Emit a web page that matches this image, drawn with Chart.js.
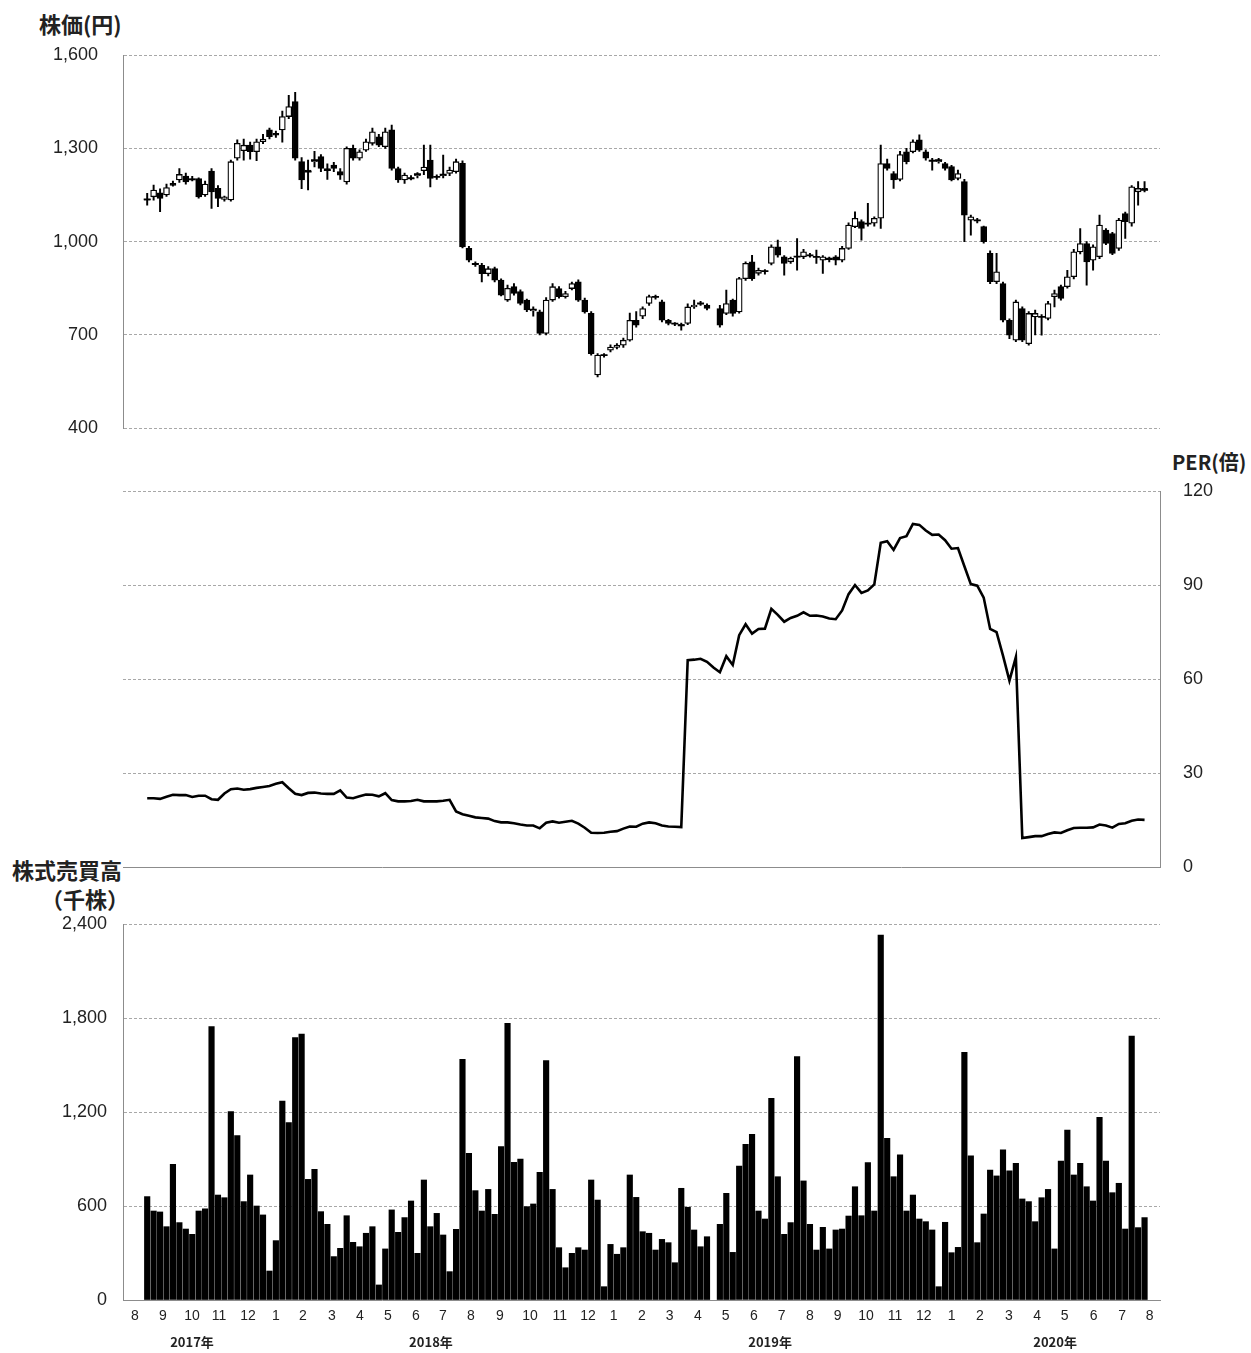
<!DOCTYPE html>
<html lang="ja">
<head>
<meta charset="utf-8">
<title>株価・PER・株式売買高</title>
<script src="https://cdn.jsdelivr.net/npm/chart.js@4.4.1/dist/chart.umd.min.js"></script>
<style>
  body { margin: 0; background: #fff; }
  #wrap { position: relative; width: 1251px; height: 1353px; background: #fff; overflow: hidden; }
  #wrap canvas { position: absolute; left: 0; }
  .lbl { position: absolute; font-family: "Noto Sans CJK JP", sans-serif; font-weight: bold;
         font-size: 22px; color: #222; white-space: nowrap; line-height: 1; }
</style>
</head>
<body>
<div id="wrap">
  <div class="lbl" style="left:39px;top:12px">株価(円)</div>
  <div class="lbl" style="left:1172px;top:452px;font-size:20px">PER(倍)</div>
  <div class="lbl" style="left:12px;top:858px">株式売買高</div>
  <div class="lbl" style="left:41px;top:887px">（千株）</div>
  <canvas id="priceChart" width="1251" height="464" style="top:0"></canvas>
  <canvas id="perChart" width="1251" height="456" style="top:445px"></canvas>
  <canvas id="volChart" width="1251" height="473" style="top:880px"></canvas>
</div>

<script>
// weekly data, Aug 2017 - Aug 2020 (156 weeks, index = week number)
// week 88 is the 2019 golden week holiday, no trading
const priceOpen = [1133,1144,1157,1150,1187,1198,1211,1202,1203,1150,1227,1171,1136,1134,1268,1292,1310,1289,1321,1359,
  1348,1359,1402,1450,1257,1230,1257,1273,1235,1246,1225,1192,1300,1268,1294,1316,1337,1305,1359,1235,
  1198,1206,1212,1228,1262,1210,1212,1219,1225,1252,978,930,924,897,913,876,812,855,839,812,
  777,774,705,812,849,823,849,871,812,769,571,633,651,660,667,683,747,760,801,823,
  806,747,737,733,737,790,800,796,null,785,769,812,774,881,935,898,903,930,983,951,
  935,951,951,957,950,940,948,951,940,978,1048,1064,1059,1059,1075,1251,1219,1200,1289,1289,
  1327,1289,1262,1257,1251,1241,1203,1193,1069,1069,1048,962,871,865,747,683,785,672,758,758,
  753,823,855,855,887,967,994,940,951,1037,1026,978,1090,1059,1160,1171];
const priceHigh = [1155,1182,1170,1185,1195,1235,1220,1210,1205,1195,1235,1180,1146,1262,1327,1330,1320,1330,1345,1365,
  1355,1420,1470,1480,1270,1262,1290,1280,1250,1255,1235,1305,1310,1295,1330,1365,1345,1365,1375,1240,
  1220,1212,1222,1310,1310,1215,1278,1240,1265,1260,985,935,930,920,918,880,860,865,845,815,
  790,780,820,865,855,840,870,877,818,775,640,640,668,672,690,770,775,790,828,828,
  812,750,740,738,800,812,808,800,null,795,844,815,885,935,956,915,910,990,1005,955,
  950,1010,975,962,973,955,950,955,985,1060,1096,1070,1123,1080,1310,1265,1225,1290,1300,1327,
  1343,1295,1268,1268,1255,1245,1230,1200,1085,1075,1050,970,962,870,752,812,790,775,780,765,
  808,844,860,908,975,1042,1000,990,1085,1042,1030,1075,1095,1180,1193,1193];
const priceLow = [1117,1133,1096,1145,1178,1190,1185,1195,1140,1145,1107,1112,1130,1130,1262,1262,1265,1260,1315,1330,
  1335,1320,1395,1262,1170,1166,1240,1225,1200,1225,1200,1185,1262,1262,1290,1310,1305,1300,1230,1190,
  1187,1198,1205,1215,1176,1200,1205,1212,1220,980,935,920,870,890,870,825,808,828,796,775,
  760,700,700,808,818,818,845,808,770,635,565,628,645,655,660,680,725,752,795,815,
  742,732,730,715,733,785,795,780,null,725,765,760,770,875,875,892,895,925,950,892,
  930,908,945,950,930,898,935,925,935,975,1045,1005,1050,1050,1042,1230,1171,1195,1250,1285,
  1290,1262,1230,1252,1230,1195,1198,1000,1021,1060,995,865,865,742,688,678,678,667,700,699,
  748,790,812,850,880,960,860,908,945,990,958,972,1010,1050,1117,1160];
const priceClose = [1136,1166,1139,1174,1181,1216,1192,1200,1144,1185,1160,1139,1144,1257,1316,1310,1289,1321,1330,1337,
  1342,1402,1434,1268,1198,1225,1262,1235,1230,1235,1214,1300,1268,1289,1321,1353,1310,1353,1235,1198,
  1214,1203,1217,1240,1203,1208,1215,1230,1257,983,940,928,897,913,876,828,850,833,801,780,
  781,705,812,855,823,833,865,812,774,640,635,635,661,667,683,747,731,785,823,822,
  747,737,736,731,790,796,801,785,null,731,801,769,881,930,881,908,905,983,956,930,
  946,952,967,956,951,951,944,940,978,1053,1075,1042,1058,1075,1251,1235,1198,1280,1257,1321,
  1294,1268,1260,1262,1235,1198,1219,1085,1080,1068,1000,871,903,747,699,806,683,769,769,758,
  801,833,817,887,967,994,935,983,1053,994,962,1069,1064,1176,1171,1166];

// PER (倍), one value per week
const perValues = [22.0,22.0,21.8,22.5,23.1,23.0,23.0,22.4,22.8,22.8,21.7,21.5,23.5,24.9,25.1,24.7,24.9,25.3,25.6,25.9,
  26.6,27.1,25.2,23.4,23.0,23.7,23.8,23.5,23.4,23.4,24.5,22.2,22.0,22.6,23.2,23.1,22.6,23.6,21.4,21.0,
  21.0,21.1,21.5,21.0,21.0,21.0,21.2,21.5,17.8,16.9,16.4,15.9,15.7,15.5,14.7,14.3,14.3,14.0,13.6,13.3,
  13.3,12.4,14.2,14.6,14.2,14.5,14.8,13.9,12.6,11.0,10.9,11.0,11.3,11.5,12.3,13.0,12.9,13.9,14.3,14.0,
  13.3,13.0,12.9,12.8,66.0,66.2,66.5,65.5,63.7,62.2,67.3,64.5,74.0,77.5,74.5,76.0,76.1,82.4,80.5,78.3,
  79.5,80.2,81.3,80.2,80.3,80.0,79.3,79.1,81.9,87.1,90.0,87.5,88.3,90.2,103.5,104.0,101.2,105.0,105.6,109.5,
  109.2,107.4,106.0,106.1,104.3,101.6,101.8,96.0,90.3,89.8,86.0,76.0,75.0,67.5,59.5,67.0,9.3,9.6,9.9,9.9,
  10.6,11.1,10.9,11.8,12.5,12.6,12.6,12.7,13.6,13.3,12.6,13.8,14.0,14.8,15.2,15.1];

// 株式売買高 (千株)
const volume = [660,568,562,468,866,494,453,419,568,582,1745,670,653,1202,1049,628,798,600,543,185,
  379,1270,1132,1675,1698,770,834,564,483,277,330,538,368,340,426,468,96,326,575,432,
  526,632,298,766,468,553,415,181,451,1536,936,698,568,706,547,979,1766,879,900,596,
  613,815,1528,706,334,206,298,334,319,766,638,85,355,292,334,798,655,436,426,319,
  387,366,238,713,592,447,340,404,null,483,681,304,855,994,1058,568,517,1287,787,419,
  494,1553,760,483,319,464,326,447,453,536,723,538,877,568,2330,1032,787,926,568,670,
  517,500,447,85,496,302,336,1581,921,366,549,830,792,958,824,872,645,628,500,653,
  706,326,887,1085,798,872,723,632,1166,887,685,745,453,1685,462,526];

// x axis labels (positions in weeks)
const monthLabels = ['8','9','10','11','12','1','2','3','4','5','6','7','8','9','10','11','12','1','2','3',
  '4','5','6','7','8','9','10','11','12','1','2','3','4','5','6','7','8'];
const monthPos = [-1.9,2.45,6.96,11.16,15.66,20.01,24.2,28.7,33.07,37.42,41.77,45.96,50.3,54.8,59.5,64.1,68.5,72.5,76.9,81.2,
  85.6,89.9,94.3,98.6,103,107.3,111.7,116.2,120.7,125,129.4,133.9,138.3,142.6,147.1,151.5,155.8];
const yearLabels = ['2017年','2018年','2019年','2020年'];
const yearPos = [6.96,44.1,96.8,141.1];

const X_MIN = -3.76, X_MAX = 157.4;
const GRID = '#a8a8a8';
const AXIS = '#8c8c8c';
const TICK_FONT = {family: '"Liberation Sans", Arial, sans-serif', size: 18};

Chart.defaults.animation = false;
Chart.defaults.events = [];
Chart.defaults.color = '#222';
Chart.defaults.plugins.legend.display = false;
Chart.defaults.plugins.tooltip.enabled = false;

function hiddenX(showBorder) {
  return {
    type: 'linear', min: X_MIN, max: X_MAX, offset: false,
    ticks: {display: false},
    grid: {display: false, drawTicks: false},
    border: {display: showBorder, color: AXIS, width: 1},
    afterFit: (a) => { a.height = 0; }
  };
}

// ---------- 株価 (candlesticks) ----------
function buildCandles() {
  const bodies = [], wicks = [], dashes = [], fills = [];
  for (let i = 0; i < priceOpen.length; i++) {
    if (priceOpen[i] == null) continue; // holiday week
    const o = priceOpen[i], c = priceClose[i];
    wicks.push({x: i, y: [priceLow[i], priceHigh[i]]});
    bodies.push({x: i, y: [Math.min(o, c), Math.max(o, c)]});
    fills.push(c >= o ? '#ffffff' : '#000000');
    if (Math.abs(o - c) < 6) dashes.push({x: i, y: c}); // doji -> draw a dash
  }
  return {bodies, wicks, dashes, fills};
}

const cd = buildCandles();

new Chart(document.getElementById('priceChart'), {
  type: 'bar',
  data: {
    datasets: [
      {data: cd.bodies, backgroundColor: cd.fills, borderColor: '#000', borderWidth: 1.3,
       borderSkipped: false, barThickness: 6, grouped: false, order: 1},
      {data: cd.wicks, backgroundColor: '#000', borderWidth: 0, barThickness: 1.3, grouped: false, order: 2},
      {type: 'scatter', data: cd.dashes, pointStyle: 'line', pointRadius: 3.5, borderColor: '#000',
       pointBorderWidth: 1.8, order: 0}
    ]
  },
  options: {
    responsive: false,
    layout: {padding: {top: 55, bottom: 17, left: 0, right: 91}},
    scales: {
      x: Object.assign(hiddenX(false), {display: false}),
      y: {
        min: 400, max: 1600,
        ticks: {stepSize: 300, padding: 25, font: TICK_FONT, callback: v => v.toLocaleString('en-US')},
        grid: {color: GRID, drawTicks: false},
        border: {display: true, color: AXIS, dash: [3, 2]},
        afterFit: (a) => { a.width = 123; }
      }
    }
  }
});

// ---------- PER ----------
new Chart(document.getElementById('perChart'), {
  type: 'line',
  data: {
    datasets: [{
      data: perValues.map((v, i) => ({x: i, y: v})),
      borderColor: '#000', borderWidth: 2.6, pointRadius: 0, tension: 0, fill: false
    }]
  },
  options: {
    responsive: false,
    layout: {padding: {top: 46, bottom: 13, left: 123, right: 0}},
    scales: {
      x: hiddenX(true),
      y: {
        position: 'right', min: 0, max: 120,
        ticks: {stepSize: 30, padding: 23, font: TICK_FONT},
        grid: {color: GRID, drawTicks: false},
        border: {display: true, color: AXIS, dash: [3, 2]},
        afterFit: (a) => { a.width = 91; }
      }
    }
  }
});

// ---------- 株式売買高 ----------
new Chart(document.getElementById('volChart'), {
  type: 'bar',
  data: {
    datasets: [{
      data: volume.map((v, i) => ({x: i, y: v})).filter(p => p.y != null),
      backgroundColor: '#000', borderWidth: 0, barThickness: 5.5, grouped: false
    }]
  },
  options: {
    responsive: false,
    layout: {padding: {top: 44, bottom: 0, left: 0, right: 91}},
    scales: {
      x: {
        type: 'linear', min: X_MIN, max: X_MAX, offset: false, weight: 0,
        afterBuildTicks: (a) => { a.ticks = monthPos.map(v => ({value: v})); },
        ticks: {autoSkip: false, maxRotation: 0, padding: 8, font: {family: TICK_FONT.family, size: 14},
                callback: (v, i) => monthLabels[i]},
        grid: {display: false, drawTicks: false},
        border: {display: true, color: AXIS, width: 1},
        afterFit: (a) => { a.height = 28; }
      },
      years: {
        type: 'linear', position: 'bottom', min: X_MIN, max: X_MAX, offset: false, weight: 1,
        afterBuildTicks: (a) => { a.ticks = yearPos.map(v => ({value: v})); },
        ticks: {autoSkip: false, maxRotation: 0, padding: 6,
                font: {family: '"Noto Sans CJK JP", sans-serif', size: 13, weight: 'bold'},
                callback: (v, i) => yearLabels[i]},
        grid: {display: false, drawTicks: false},
        border: {display: false},
        afterFit: (a) => { a.height = 25; }
      },
      y: {
        min: 0, max: 2400,
        ticks: {stepSize: 600, padding: 16, font: TICK_FONT, callback: v => v.toLocaleString('en-US')},
        grid: {color: GRID, drawTicks: false},
        border: {display: true, color: AXIS, dash: [3, 2]},
        afterFit: (a) => { a.width = 123; }
      }
    }
  }
});
</script>
</body>
</html>
